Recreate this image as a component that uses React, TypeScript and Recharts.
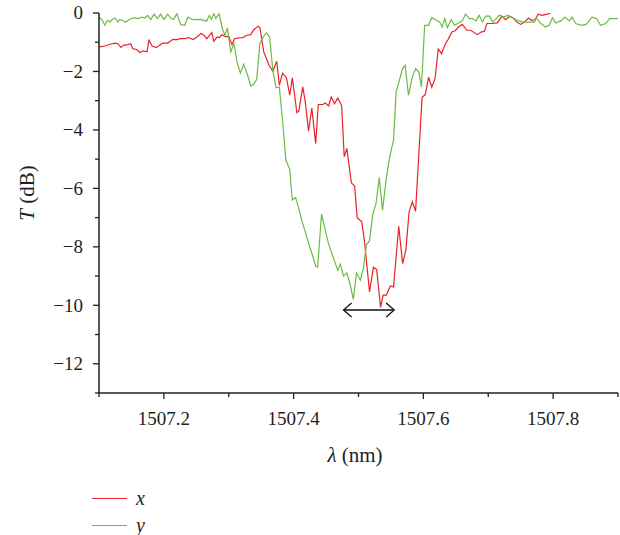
import React from 'react';
import { LineChart, Line, XAxis, YAxis, ReferenceLine } from 'recharts';

// wavelength (nm) and transmission (dB) for the x polarisation
const xLambda = [
  1507.100, 1507.109, 1507.117, 1507.125, 1507.129, 1507.134, 1507.138, 1507.145, 1507.149, 1507.152,
  1507.158, 1507.163, 1507.168, 1507.174, 1507.177, 1507.182, 1507.188, 1507.192, 1507.198, 1507.206,
  1507.214, 1507.220, 1507.226, 1507.232, 1507.238, 1507.245, 1507.251, 1507.257, 1507.262, 1507.266,
  1507.274, 1507.277, 1507.282, 1507.286, 1507.289, 1507.295, 1507.300, 1507.305, 1507.309, 1507.315,
  1507.322, 1507.328, 1507.334, 1507.338, 1507.345, 1507.348, 1507.354, 1507.362, 1507.368, 1507.374,
  1507.378, 1507.383, 1507.389, 1507.394, 1507.398, 1507.405, 1507.408, 1507.414, 1507.418, 1507.423,
  1507.428, 1507.434, 1507.438, 1507.445, 1507.449, 1507.454, 1507.458, 1507.463, 1507.468, 1507.474,
  1507.478, 1507.482, 1507.489, 1507.494, 1507.498, 1507.505, 1507.509, 1507.517, 1507.523, 1507.528,
  1507.534, 1507.538, 1507.543, 1507.549, 1507.554, 1507.562, 1507.568, 1507.573, 1507.578, 1507.583,
  1507.588, 1507.598, 1507.603, 1507.608, 1507.613, 1507.618, 1507.623, 1507.628, 1507.634, 1507.638,
  1507.644, 1507.649, 1507.654, 1507.660, 1507.667, 1507.673, 1507.683, 1507.689, 1507.694, 1507.698,
  1507.706, 1507.714, 1507.721, 1507.727, 1507.733, 1507.738, 1507.744, 1507.750, 1507.756, 1507.762,
  1507.767, 1507.772, 1507.777, 1507.783, 1507.791, 1507.796,
];
const xT = [
  -1.16, -1.13, -1.07, -1.03, -1.05, -1.18, -1.10, -1.08, -1.05, -1.22,
  -1.25, -1.35, -1.30, -1.33, -0.93, -1.13, -1.18, -1.13, -1.03, -1.03,
  -0.90, -0.91, -0.88, -0.88, -0.84, -0.91, -0.82, -0.70, -0.76, -0.88,
  -0.67, -0.97, -0.82, -0.84, -0.74, -0.81, -0.80, -1.08, -0.88, -0.85,
  -0.84, -0.76, -0.74, -0.59, -0.45, -0.50, -1.33, -1.79, -1.99, -1.65,
  -2.47, -2.06, -2.22, -2.81, -2.22, -3.41, -3.36, -2.53, -3.04, -4.04,
  -3.25, -4.47, -3.13, -3.13, -3.08, -3.18, -2.87, -3.10, -2.91, -3.16,
  -4.92, -4.63, -5.81, -5.92, -7.00, -7.14, -7.77, -9.54, -8.70, -8.77,
  -10.07, -9.65, -9.65, -9.34, -9.37, -7.30, -8.57, -8.11, -6.80, -6.46,
  -6.78, -2.88, -2.79, -2.20, -2.54, -2.24, -1.23, -1.39, -1.05, -0.91,
  -0.65, -0.61, -0.48, -0.39, -0.59, -0.59, -0.74, -0.65, -0.63, -0.36,
  -0.36, -0.34, -0.11, -0.23, -0.11, -0.16, -0.31, -0.39, -0.31, -0.17,
  -0.25, -0.23, -0.04, -0.08, -0.04, 0,
];

// wavelength (nm) and transmission (dB) for the y polarisation
const yLambda = [
  1507.100, 1507.102, 1507.105, 1507.109, 1507.113, 1507.117, 1507.120, 1507.125, 1507.129, 1507.132,
  1507.135, 1507.141, 1507.145, 1507.150, 1507.155, 1507.160, 1507.166, 1507.171, 1507.175, 1507.180,
  1507.185, 1507.190, 1507.195, 1507.200, 1507.206, 1507.211, 1507.215, 1507.220, 1507.226, 1507.232,
  1507.237, 1507.243, 1507.250, 1507.257, 1507.262, 1507.266, 1507.270, 1507.273, 1507.277, 1507.280,
  1507.285, 1507.290, 1507.294, 1507.298, 1507.303, 1507.308, 1507.313, 1507.318, 1507.323, 1507.329,
  1507.334, 1507.338, 1507.343, 1507.348, 1507.353, 1507.358, 1507.363, 1507.368, 1507.373, 1507.378,
  1507.384, 1507.388, 1507.394, 1507.398, 1507.403, 1507.408, 1507.413, 1507.418, 1507.424, 1507.429,
  1507.434, 1507.437, 1507.443, 1507.448, 1507.453, 1507.458, 1507.463, 1507.468, 1507.472, 1507.477,
  1507.482, 1507.487, 1507.492, 1507.497, 1507.503, 1507.508, 1507.512, 1507.517, 1507.522, 1507.527,
  1507.532, 1507.537, 1507.543, 1507.548, 1507.554, 1507.558, 1507.563, 1507.568, 1507.572, 1507.577,
  1507.583, 1507.588, 1507.593, 1507.597, 1507.602, 1507.608, 1507.613, 1507.620, 1507.625, 1507.629,
  1507.633, 1507.637, 1507.643, 1507.648, 1507.653, 1507.660, 1507.665, 1507.671, 1507.676, 1507.681,
  1507.686, 1507.691, 1507.696, 1507.702, 1507.707, 1507.712, 1507.717, 1507.723, 1507.730, 1507.737,
  1507.745, 1507.753, 1507.763, 1507.771, 1507.774, 1507.780, 1507.788, 1507.794, 1507.799, 1507.804,
  1507.812, 1507.818, 1507.825, 1507.829, 1507.835, 1507.843, 1507.851, 1507.860, 1507.867, 1507.873,
  1507.881, 1507.887, 1507.894, 1507.900,
];
const yT = [
  -0.20, -0.17, -0.25, -0.42, -0.25, -0.31, -0.22, -0.17, -0.31, -0.22,
  -0.25, -0.31, -0.25, -0.19, -0.17, -0.19, -0.14, -0.17, -0.08, -0.22,
  -0.04, -0.19, -0.04, -0.22, -0.04, -0.19, -0.22, -0.02, -0.40, -0.42,
  -0.14, -0.22, -0.23, -0.22, -0.25, -0.28, -0.08, -0.22, -0.02, -0.19,
  -0.02, -0.53, -0.76, -0.51, -1.33, -1.05, -1.70, -2.06, -1.75, -2.12,
  -2.50, -2.45, -2.28, -1.05, -0.82, -0.68, -0.82, -1.98, -2.56, -2.53,
  -3.95, -5.03, -5.35, -6.40, -6.31, -6.69, -7.14, -7.49, -7.94, -8.28,
  -8.66, -8.70, -6.88, -7.34, -7.83, -8.17, -8.48, -8.80, -8.59, -9.00,
  -8.89, -9.28, -9.80, -8.89, -9.14, -8.68, -7.94, -7.79, -6.88, -6.52,
  -5.63, -6.75, -5.63, -4.92, -4.35, -2.70, -2.30, -1.90, -1.79, -2.81,
  -2.19, -1.90, -2.02, -2.53, -0.42, -0.42, -0.16, -0.25, -0.31, -0.48,
  -0.19, -0.50, -0.23, -0.42, -0.36, -0.27, -0.04, -0.19, -0.19, -0.27,
  -0.08, -0.31, -0.11, -0.11, -0.31, -0.19, -0.08, -0.14, -0.08, -0.16,
  -0.25, -0.31, -0.31, -0.31, -0.16, -0.34, -0.48, -0.42, -0.16, -0.34,
  -0.27, -0.14, -0.27, -0.14, -0.36, -0.42, -0.39, -0.14, -0.19, -0.42,
  -0.36, -0.19, -0.19, -0.19,
];

const bottomTicks = [1507.1, 1507.2, 1507.3, 1507.4, 1507.5, 1507.6, 1507.7, 1507.8, 1507.9];
const bottomLabels = [1507.2, 1507.4, 1507.6, 1507.8];
const topTicks = [1507.18, 1507.26, 1507.34, 1507.42, 1507.5, 1507.58, 1507.66, 1507.74, 1507.82];
const leftTicks = [0, -1, -2, -3, -4, -5, -6, -7, -8, -9, -10, -11, -12, -13];
const leftLabels = [0, -2, -4, -6, -8, -10, -12];
const rightTicks = [-1.3, -2.6, -3.9, -5.2, -6.5, -7.8, -9.1, -10.4, -11.7];

// FWHM marker (double arrow)
const arrowFrom = 1507.477;
const arrowTo = 1507.555;
const arrowLevel = -10.16;

const xData = xLambda.map((l, i) => ({ lambda: l, T: xT[i] }));
const yData = yLambda.map((l, i) => ({ lambda: l, T: yT[i] }));

const AXIS = '#231f20';
const RED = '#ea2228';
const GREEN = '#6bbb45';
const FONT = "'Liberation Serif', 'Times New Roman', serif";

const isIn = (list: number[], v: number) => list.some(t => Math.abs(t - v) < 1e-6);

const minus = (v: number) => (v < 0 ? '\u2212' + Math.abs(v) : String(v));

const BottomTick = (props: any) => {
  const { x, y, payload } = props;
  const major = isIn(bottomLabels, payload.value);
  return (
    <g>
      <line x1={x} y1={y} x2={x} y2={y + (major ? 6 : 4)} stroke={AXIS} strokeWidth={1.3} />
      {major && (
        <text x={x} y={y + 32} textAnchor="middle" style={{ fontFamily: FONT, fontSize: 19 }} fill={AXIS}>
          {payload.value.toFixed(1)}
        </text>
      )}
    </g>
  );
};

const LeftTick = (props: any) => {
  const { x, y, payload } = props;
  const major = isIn(leftLabels, payload.value);
  return (
    <g>
      <line x1={x} y1={y} x2={x - (major ? 6 : 4)} y2={y} stroke={AXIS} strokeWidth={1.3} />
      {major && (
        <text x={x - 16} y={y} dy="0.34em" textAnchor="end" style={{ fontFamily: FONT, fontSize: 19 }} fill={AXIS}>
          {minus(payload.value)}
        </text>
      )}
    </g>
  );
};

const DoubleArrow = (props: any) => {
  const { x1, y1, x2, y2 } = props;
  const h = 8;
  const w = 7;
  return (
    <g fill="none" stroke="#111" strokeWidth={1.3}>
      <line x1={x1} y1={y1} x2={x2} y2={y2} />
      <polyline points={`${x1 + h},${y1 - w} ${x1},${y1} ${x1 + h},${y1 + w}`} />
      <polyline points={`${x2 - h},${y2 - w} ${x2},${y2} ${x2 - h},${y2 + w}`} />
    </g>
  );
};

const App: React.FC = () => {
  return (
    <div style={{ position: 'absolute', left: 0, top: 0, width: 620, height: 535, background: '#fff', fontFamily: FONT, color: AXIS }}>
      <LineChart width={620} height={535} margin={{ top: 13, right: 2, bottom: 0, left: 0 }} style={{ fontFamily: FONT }}>
        <XAxis
          dataKey="lambda"
          type="number"
          domain={[1507.1, 1507.9]}
          ticks={bottomTicks}
          allowDataOverflow
          height={142}
          tickSize={0}
          tickMargin={0}
          tickLine={false}
          axisLine={{ stroke: AXIS, strokeWidth: 1.5 }}
          tick={<BottomTick />}
          interval={0}
        />
        <XAxis
          xAxisId="top"
          orientation="top"
          type="number"
          domain={[1507.1, 1507.9]}
          ticks={topTicks}
          allowDataOverflow
          mirror
          height={0}
          tickSize={4}
          tickFormatter={() => ''}
          tickLine={{ stroke: AXIS, strokeWidth: 1.3 }}
          axisLine={{ stroke: AXIS, strokeWidth: 1.5 }}
          interval={0}
        />
        <YAxis
          type="number"
          domain={[-13, 0]}
          ticks={leftTicks}
          allowDataOverflow
          width={99}
          tickSize={0}
          tickMargin={0}
          tickLine={false}
          axisLine={{ stroke: AXIS, strokeWidth: 1.5 }}
          tick={<LeftTick />}
          interval={0}
        />
        <YAxis
          yAxisId="right"
          orientation="right"
          type="number"
          domain={[-13, 0]}
          ticks={rightTicks}
          allowDataOverflow
          mirror
          width={0}
          tickSize={4}
          tickFormatter={() => ''}
          tickLine={{ stroke: AXIS, strokeWidth: 1.3 }}
          axisLine={{ stroke: AXIS, strokeWidth: 1.5 }}
          interval={0}
        />
        <Line
          data={xData}
          dataKey="T"
          type="linear"
          stroke={RED}
          strokeWidth={1.2}
          dot={false}
          activeDot={false}
          isAnimationActive={false}
        />
        <Line
          data={yData}
          dataKey="T"
          type="linear"
          stroke={GREEN}
          strokeWidth={1.2}
          dot={false}
          activeDot={false}
          isAnimationActive={false}
        />
        <ReferenceLine
          segment={[{ x: arrowFrom, y: arrowLevel }, { x: arrowTo, y: arrowLevel }]}
          ifOverflow="visible"
          shape={<DoubleArrow />}
        />
      </LineChart>

      {/* axis titles */}
      <div
        style={{
          position: 'absolute', left: 27 - 60, top: 193 - 12, width: 120, height: 24, lineHeight: '24px',
          textAlign: 'center', fontSize: 21, transform: 'rotate(-90deg)', whiteSpace: 'nowrap',
        }}
      >
        <i>T</i> (dB)
      </div>
      <div
        style={{
          position: 'absolute', left: 355 - 60, top: 443, width: 120, height: 24, lineHeight: '24px',
          textAlign: 'center', fontSize: 21, whiteSpace: 'nowrap',
        }}
      >
        <i>λ</i> (nm)
      </div>

      {/* legend */}
      {[
        { name: 'x', color: RED, top: 487 },
        { name: 'y', color: GREEN, top: 514 },
      ].map(item => (
        <div key={item.name} style={{ position: 'absolute', left: 92, top: item.top, height: 22, display: 'flex', alignItems: 'center' }}>
          <span style={{ display: 'inline-block', width: 35, height: 0, borderTop: `1.5px solid ${item.color}` }} />
          <i style={{ marginLeft: 9, fontSize: 20, lineHeight: '22px' }}>{item.name}</i>
        </div>
      ))}
    </div>
  );
};

export default App;
